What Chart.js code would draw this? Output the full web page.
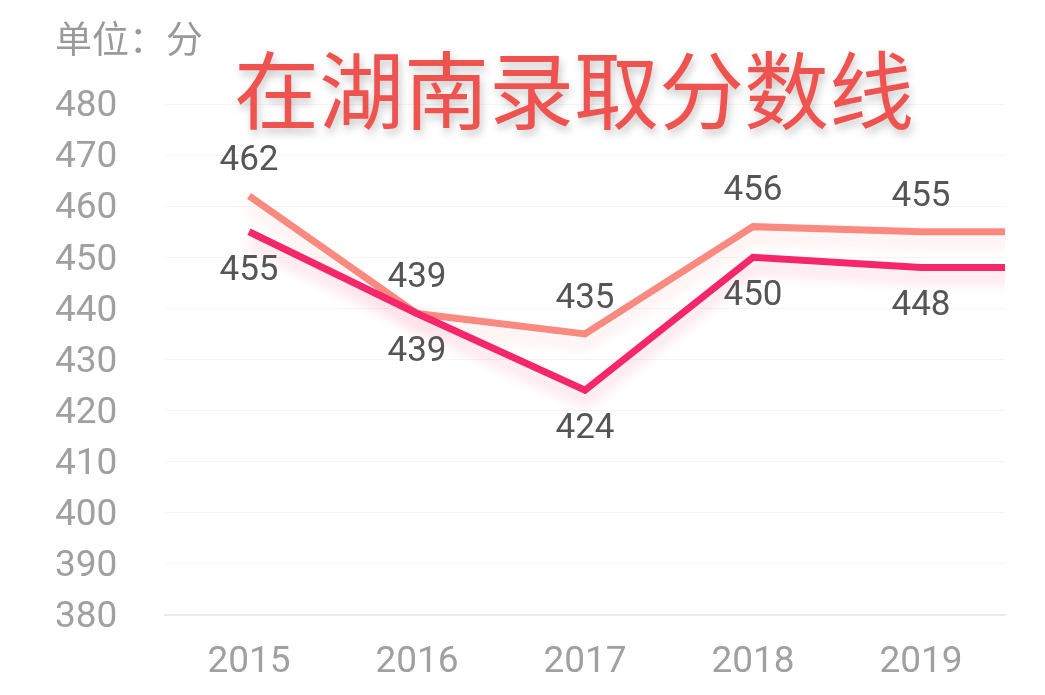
<!DOCTYPE html>
<html lang="zh-CN">
<head>
  <meta charset="UTF-8">
  <title>在湖南录取分数线</title>
  <script src="https://cdn.jsdelivr.net/npm/chart.js"></script>
  <style>
    html, body { margin: 0; padding: 0; background: #fff; }
    #wrap { position: relative; width: 1045px; height: 695px; }
    #unit {
      position: absolute; left: 55px; top: 19px;
      font: 37px "Noto Sans CJK SC", sans-serif; line-height: 1;
      color: #9a9a9a; z-index: 2;
    }
    #title {
      position: absolute; left: 234px; top: 43px;
      font: 85px "Noto Sans CJK SC", sans-serif; line-height: 1;
      color: #ef5350; text-shadow: 2px 5px 8px rgba(0,0,0,0.22);
      z-index: 2; white-space: nowrap;
    }
  </style>
</head>
<body>
<div id="wrap">
  <div id="unit">单位：分</div>
  <div id="title">在湖南录取分数线</div>
  <canvas id="lineChart" width="1045" height="695"></canvas>
</div>

<script>
  const years = [2015, 2016, 2017, 2018, 2019];
  const upperScores = [462, 439, 435, 456, 455]; // salmon line
  const lowerScores = [455, 439, 424, 450, 448]; // crimson line
  // both lines run on flat past 2019 to the right edge of the plot
  const edgeYear = 2020;
  const upperEdge = 455;
  const lowerEdge = 448;
  const yTicks = [380, 390, 400, 410, 420, 430, 440, 450, 460, 470, 480];

  function toPoints(vals, edgeVal) {
    const pts = years.map((y, i) => ({ x: y, y: vals[i] }));
    pts.push({ x: edgeYear, y: edgeVal });
    return pts;
  }

  // soft glow under each line
  const glowPlugin = {
    id: 'glow',
    beforeDatasetDraw(chart, args) {
      const ds = chart.data.datasets[args.index];
      const ctx = chart.ctx;
      ctx.save();
      ctx.shadowColor = ds.glowColor;
      ctx.shadowBlur = 14;
      ctx.shadowOffsetY = 10;
    },
    afterDatasetDraw(chart) {
      chart.ctx.restore();
    }
  };

  // value labels above / below the points
  const labelPlugin = {
    id: 'valueLabels',
    afterDatasetsDraw(chart) {
      const ctx = chart.ctx;
      ctx.save();
      ctx.font = '35px Roboto';
      ctx.fillStyle = '#555';
      ctx.textAlign = 'center';
      ctx.textBaseline = 'middle';
      chart.data.datasets.forEach((ds, di) => {
        const meta = chart.getDatasetMeta(di);
        years.forEach((y, i) => {
          const pt = meta.data[i];
          ctx.fillText(String(ds.data[i].y), pt.x, pt.y + ds.labelOffset);
        });
      });
      ctx.restore();
    }
  };

  const config = {
    type: 'line',
    data: {
      datasets: [
        {
          label: 'lower',
          data: toPoints(lowerScores, lowerEdge),
          borderColor: 'rgb(245, 38, 105)',
          glowColor: 'rgba(245, 38, 105, 0.22)',
          borderWidth: 7,
          pointRadius: 0,
          tension: 0,
          labelOffset: 39
        },
        {
          label: 'upper',
          data: toPoints(upperScores, upperEdge),
          borderColor: 'rgb(250, 138, 128)',
          glowColor: 'rgba(250, 138, 128, 0.22)',
          borderWidth: 7,
          pointRadius: 0,
          tension: 0,
          labelOffset: -35
        }
      ]
    },
    options: {
      responsive: false,
      animation: false,
      layout: { padding: { left: 55, right: 40, top: 104, bottom: 0 } },
      plugins: {
        legend: { display: false },
        tooltip: { enabled: false }
      },
      scales: {
        x: {
          type: 'linear',
          min: 2014.5,
          max: 2019.5,
          afterBuildTicks: s => { s.ticks = years.map(v => ({ value: v })); },
          afterFit: s => { s.height = 80; },
          grid: { display: false },
          border: { display: true, color: '#e9e9f2', width: 2 },
          ticks: {
            font: { family: 'Roboto', size: 37 },
            color: '#a0a0a0',
            padding: 18,
            callback: v => String(v)
          }
        },
        y: {
          min: 380,
          max: 480,
          afterBuildTicks: s => { s.ticks = yTicks.map(v => ({ value: v })); },
          afterFit: s => { s.width = 110; },
          grid: { color: '#f5f5f5', lineWidth: 1, drawTicks: false },
          border: { display: false },
          ticks: {
            font: { family: 'Roboto', size: 37 },
            color: '#a0a0a0',
            crossAlign: 'far',
            labelOffset: 3
          }
        }
      }
    },
    plugins: [glowPlugin, labelPlugin]
  };

  new Chart(document.getElementById('lineChart'), config);
</script>
</body>
</html>
